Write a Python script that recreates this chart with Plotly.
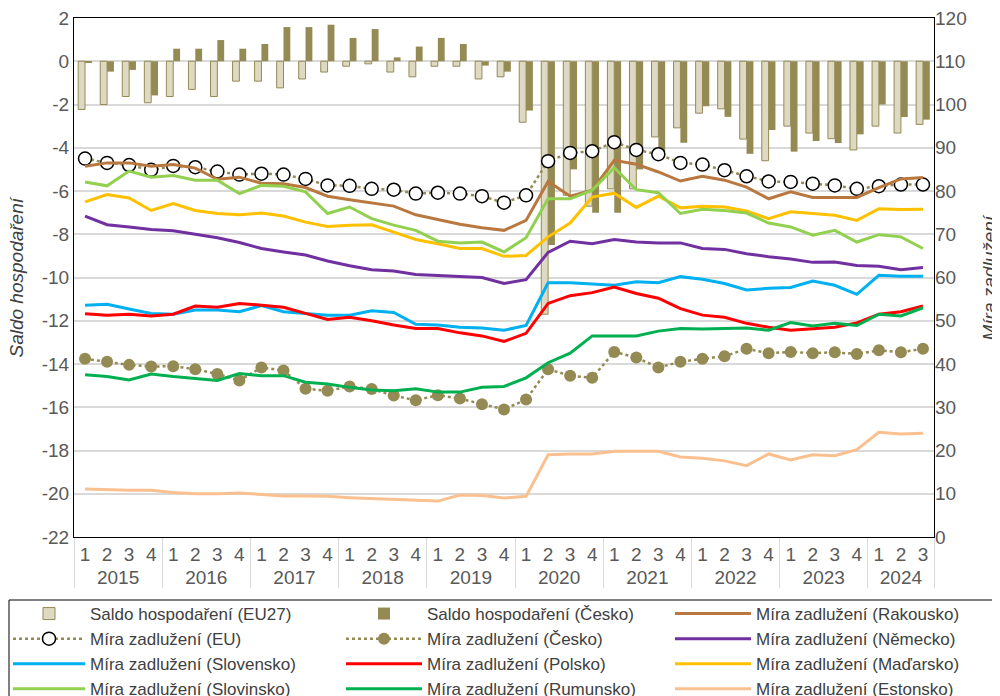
import plotly.graph_objects as go

years = ["2015"]*4 + ["2016"]*4 + ["2017"]*4 + ["2018"]*4 + ["2019"]*4 + \
        ["2020"]*4 + ["2021"]*4 + ["2022"]*4 + ["2023"]*4 + ["2024"]*3
quarters = ["1", "2", "3", "4"]*9 + ["1", "2", "3"]

saldo_eu27 = [-2.23, -2.0, -1.63, -1.92, -1.63, -1.3, -1.63, -0.92, -0.92, -1.23,
              -0.82, -0.5, -0.23, -0.12, -0.5, -0.72, -0.23, -0.23, -0.82, -0.72,
              -2.82, -11.7, -6.2, -6.7, -5.9, -5.9, -3.5, -3.08, -2.4, -2.2,
              -3.6, -4.6, -3.0, -3.32, -3.58, -4.1, -3.0, -3.32, -2.92]
saldo_cz = [-0.08, -0.48, -0.4, -1.58, 0.58, 0.58, 0.98, 0.58, 0.8, 1.58,
            1.58, 1.69, 1.08, 1.49, 0.18, 0.68, 1.08, 0.8, -0.2, -0.48,
            -2.28, -8.5, -5.0, -7.0, -7.0, -5.0, -4.2, -3.77, -2.08, -2.57,
            -4.28, -3.18, -4.18, -3.69, -3.78, -3.38, -2.0, -2.58, -2.7]

dluh_rakousko = [85.7, 86.5, 86.5, 85.7, 86.1, 85.3, 82.7, 83.2, 81.8, 81.7,
                 80.8, 78.8, 78.0, 77.3, 76.5, 74.5, 73.4, 72.3, 71.5, 70.9,
                 73.2, 82.2, 78.8, 80.2, 87.1, 86.2, 84.4, 82.3, 83.4, 82.5,
                 80.9, 78.2, 79.8, 78.5, 78.5, 78.5, 80.8, 82.8, 83.1]
dluh_eu = [87.5, 86.5, 86.0, 84.9, 85.8, 85.5, 84.5, 83.8, 84.0, 83.8,
           82.8, 81.3, 81.2, 80.5, 80.3, 79.4, 79.6, 79.4, 78.8, 77.3,
           79.0, 86.9, 88.8, 89.2, 91.3, 89.5, 88.5, 86.5, 86.1, 84.8,
           83.4, 82.2, 82.1, 81.7, 81.3, 80.5, 81.1, 81.5, 81.5]
dluh_cesko = [41.2, 40.5, 39.8, 39.4, 39.5, 38.8, 37.7, 36.2, 39.2, 38.5,
              34.3, 33.8, 34.8, 34.2, 32.7, 31.6, 32.8, 32.0, 30.7, 29.5,
              31.8, 38.8, 37.3, 36.8, 42.8, 41.5, 39.2, 40.5, 41.2, 41.8,
              43.5, 42.5, 42.8, 42.5, 42.7, 42.3, 43.2, 42.7, 43.5]
dluh_nemecko = [74.2, 72.2, 71.7, 71.1, 70.8, 70.0, 69.2, 68.1, 66.7, 65.9,
                65.2, 63.8, 62.7, 61.8, 61.5, 60.7, 60.5, 60.2, 60.0, 58.6,
                59.5, 65.8, 68.4, 67.8, 68.8, 68.2, 68.0, 68.0, 66.7, 66.5,
                65.5, 64.8, 64.3, 63.5, 63.6, 62.8, 62.6, 61.8, 62.3]
dluh_slovensko = [53.6, 53.8, 52.7, 51.7, 51.5, 52.5, 52.5, 52.1, 53.5, 52.1,
                  51.7, 51.3, 51.3, 52.3, 51.9, 49.2, 49.0, 48.5, 48.3, 47.8,
                  48.9, 58.8, 58.8, 58.5, 58.2, 59.0, 58.8, 60.2, 59.6, 58.6,
                  57.1, 57.5, 57.7, 59.2, 58.2, 56.1, 60.5, 60.3, 60.3]
dluh_polsko = [51.6, 51.3, 51.5, 51.1, 51.5, 53.4, 53.1, 54.0, 53.6, 53.1,
               51.7, 50.3, 50.8, 50.0, 49.0, 48.2, 48.2, 47.2, 46.5, 45.2,
               47.1, 54.0, 55.8, 56.5, 57.8, 56.3, 55.2, 52.8, 51.3, 50.8,
               49.4, 48.5, 47.8, 48.1, 48.5, 49.5, 51.5, 52.1, 53.4]
dluh_madarsko = [77.5, 79.2, 78.4, 75.5, 77.1, 75.5, 74.8, 74.5, 74.9, 74.2,
                 72.8, 71.8, 72.1, 72.2, 70.5, 68.8, 67.8, 66.7, 66.7, 64.9,
                 65.1, 69.4, 72.6, 78.6, 79.5, 76.2, 78.8, 76.1, 76.5, 76.3,
                 75.4, 73.6, 75.2, 74.8, 74.4, 73.2, 75.9, 75.7, 75.8]
dluh_slovinsko = [82.1, 81.2, 84.6, 83.2, 83.6, 82.5, 82.5, 79.4, 81.3, 81.1,
                  79.8, 74.8, 76.3, 73.6, 72.1, 70.9, 68.4, 68.0, 68.2, 65.9,
                  69.2, 78.2, 78.2, 80.2, 85.4, 80.3, 79.6, 74.8, 75.8, 75.5,
                  74.9, 72.6, 71.7, 69.8, 70.9, 68.2, 69.9, 69.4, 66.7]
dluh_rumunsko = [37.5, 37.1, 36.3, 37.7, 37.1, 36.7, 36.2, 37.8, 37.3, 37.3,
                 35.8, 35.4, 34.6, 34.0, 33.8, 34.3, 33.5, 33.5, 34.6, 34.8,
                 36.8, 40.3, 42.5, 46.5, 46.5, 46.5, 47.6, 48.2, 48.1, 48.2,
                 48.3, 47.8, 49.6, 48.8, 49.4, 48.9, 51.5, 51.1, 53.0]
dluh_estonsko = [11.1, 10.9, 10.8, 10.8, 10.3, 10.0, 10.0, 10.2, 9.8, 9.5,
                 9.5, 9.4, 9.1, 8.9, 8.8, 8.5, 8.3, 9.7, 9.6, 9.0,
                 9.4, 19.0, 19.2, 19.2, 19.8, 19.8, 19.8, 18.5, 18.2, 17.6,
                 16.5, 19.2, 17.8, 19.0, 18.8, 20.2, 24.2, 23.8, 24.0]

left_ticks = [2, 0, -2, -4, -6, -8, -10, -12, -14, -16, -18, -20, -22]
left_ticktext = [str(v) for v in left_ticks]

x = [years, quarters]
OLIVE = "#948A54"
FONT = "Liberation Sans, Arial, sans-serif"

# the page body adds an 8 px offset; figure is sized so it ends at the window edge
OFF = 8
W, H = 1000 - OFF, 696 - OFF

fig = go.Figure()
fig.add_trace(go.Bar(x=x, y=saldo_eu27, name="Saldo hospodaření (EU27)", legend="legend",
                     marker=dict(color="#DDD9C3", line=dict(color=OLIVE, width=1))))
fig.add_trace(go.Bar(x=x, y=saldo_cz, name="Saldo hospodaření (Česko)", legend="legend2",
                     marker=dict(color=OLIVE, line=dict(width=0))))

def line(y, name, color, leg):
    return go.Scatter(x=x, y=y, name=name, yaxis="y2", mode="lines", legend=leg,
                      line=dict(color=color, width=3))

fig.add_trace(go.Scatter(x=x, y=dluh_eu, name="Míra zadlužení (EU)", yaxis="y2",
                         mode="lines+markers", legend="legend",
                         line=dict(color=OLIVE, width=2.5, dash="dot"),
                         marker=dict(size=13, color="white", line=dict(color="black", width=1.5))))
fig.add_trace(go.Scatter(x=x, y=dluh_cesko, name="Míra zadlužení (Česko)", yaxis="y2",
                         mode="lines+markers", legend="legend2",
                         line=dict(color=OLIVE, width=2.5, dash="dot"),
                         marker=dict(size=12, color=OLIVE)))
fig.add_trace(line(dluh_rakousko, "Míra zadlužení (Rakousko)", "#B9783F", "legend3"))
fig.add_trace(line(dluh_nemecko, "Míra zadlužení (Německo)", "#7030A0", "legend3"))
fig.add_trace(line(dluh_slovensko, "Míra zadlužení (Slovensko)", "#00B0F0", "legend"))
fig.add_trace(line(dluh_polsko, "Míra zadlužení (Polsko)", "#FF0000", "legend2"))
fig.add_trace(line(dluh_madarsko, "Míra zadlužení (Maďarsko)", "#FFC000", "legend3"))
fig.add_trace(line(dluh_slovinsko, "Míra zadlužení (Slovinsko)", "#92D050", "legend"))
fig.add_trace(line(dluh_rumunsko, "Míra zadlužení (Rumunsko)", "#00B050", "legend2"))
fig.add_trace(line(dluh_estonsko, "Míra zadlužení (Estonsko)", "#FAC090", "legend3"))

def leg(xpx, ypx, iw=76):
    return dict(orientation="v", xref="container", yref="container",
                x=(xpx - OFF)/W, y=1-(ypx - OFF)/H, xanchor="left", yanchor="top",
                bgcolor="rgba(0,0,0,0)", borderwidth=0,
                font=dict(family=FONT, size=17, color="#404040"),
                tracegroupgap=0, itemwidth=iw, traceorder="normal")

# plot area in page pixels
L, R, T, B = 74, 934, 18, 537
def px_x(p):
    return (p - L) / (R - L)
def px_y(p):
    return (B - p) / (B - T)

fig.update_layout(
    width=W, height=H,
    margin=dict(l=L-OFF, r=1000-R, t=T-OFF, b=696-B, autoexpand=False),
    paper_bgcolor="white", plot_bgcolor="white",
    font=dict(family=FONT, size=19, color="#595959"),
    barmode="group", bargap=0.38, bargroupgap=0,
    showlegend=True,
    legend=leg(8, 596, 72), legend2=leg(341, 596), legend3=leg(670, 596),
    xaxis=dict(type="multicategory", showgrid=False, automargin=False,
               range=[-0.5, 38.5], autorange=False,
               tickmode="linear", tick0=0, dtick=1,
               showline=True, linecolor="black", linewidth=1, mirror=True,
               tickfont=dict(size=19, color="#595959"),
               dividercolor="#D9D9D9", dividerwidth=1, ticks=""),
    yaxis=dict(range=[-22, 2], tickmode="array", tickvals=left_ticks,
               ticktext=left_ticktext, showgrid=True, gridcolor="#D9D9D9",
               gridwidth=1.5, zeroline=False, automargin=False,
               ticklabeloverflow="allow",
               showline=True, linecolor="black", linewidth=1, mirror=True,
               tickfont=dict(size=19, color="#595959")),
    yaxis2=dict(range=[0, 120], dtick=10, overlaying="y", side="right",
                showgrid=False, zeroline=False, showline=False, automargin=False,
                ticklabeloverflow="allow",
                tickfont=dict(size=19, color="#595959")),
    annotations=[
        dict(text="<i>Saldo hospodaření</i>", xref="paper", yref="paper",
             x=px_x(16), y=0.5, textangle=-90, showarrow=False,
             xanchor="center", yanchor="middle",
             font=dict(family=FONT, size=19, color="#404040")),
        dict(text="<i>Míra zadlužení</i>", xref="paper", yref="paper",
             x=px_x(989), y=0.5, textangle=-90, showarrow=False,
             xanchor="center", yanchor="middle",
             font=dict(family=FONT, size=19, color="#404040")),
    ],
    shapes=[dict(type="rect", xref="paper", yref="paper", layer="above",
                 x0=px_x(9), x1=px_x(999), y0=px_y(600), y1=px_y(705),
                 line=dict(color="black", width=1), fillcolor="rgba(0,0,0,0)")],
)

fig.write_html("out.html")
